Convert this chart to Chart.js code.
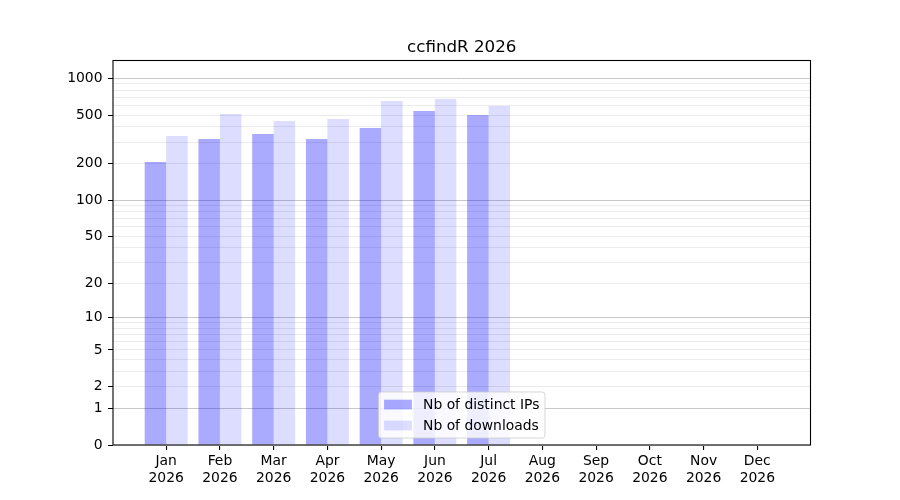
<!DOCTYPE html>
<html>
<head>
<meta charset="utf-8">
<script src="https://cdn.jsdelivr.net/npm/chart.js@4.4.1/dist/chart.umd.min.js"></script>
<style>
html,body{margin:0;padding:0;background:#ffffff;}
#wrap{width:900px;height:500px;position:relative;}
</style>
</head>
<body>
<div id="wrap"><canvas id="c" width="900" height="500"></canvas></div>
<script>
// ---- data ----
const chartTitle = 'ccfindR 2026';
const months = ['Jan','Feb','Mar','Apr','May','Jun','Jul','Aug','Sep','Oct','Nov','Dec'];
const year = '2026';
const distinctIPs = [206, 318, 350, 318, 392, 540, 501, 0, 0, 0, 0, 0];
const downloads   = [337, 510, 447, 464, 652, 677, 593, 0, 0, 0, 0, 0];
const seriesLabels = ['Nb of distinct IPs', 'Nb of downloads'];
const yTickValues  = [0, 1, 2, 5, 10, 20, 50, 100, 200, 500, 1000];
const yMinorValues = [3, 4, 6, 7, 8, 9, 30, 40, 60, 70, 80, 90, 300, 400, 600, 700, 800, 900];
const yMajorGrid   = [1, 10, 100, 1000];

// ---- helpers ----
const tf = v => Math.log10(1 + v);          // log(1+x) axis transform
const labeledY = new Set(yTickValues);
const majorY = new Set(yMajorGrid);
const allY = [...yTickValues, ...yMinorValues].sort((a, b) => a - b);
const FONT = '"DejaVu Sans", "Liberation Sans", sans-serif';
const FS = 13.9;

const framePlugin = {
  id: 'frameTitleLegend',
  afterDatasetsDraw(chart) {
    const ctx = chart.ctx, a = chart.chartArea;
    ctx.save();
    // axes frame
    ctx.strokeStyle = '#000';
    ctx.lineWidth = 1.1;
    ctx.strokeRect(a.left, a.top, a.right - a.left, a.bottom - a.top);
    // title
    ctx.fillStyle = '#000';
    ctx.font = `16.7px ${FONT}`;
    ctx.textAlign = 'center';
    ctx.textBaseline = 'alphabetic';
    ctx.fillText(chartTitle, (a.left + a.right) / 2, a.top - 8.5);
    // legend (lower center, inside axes)
    ctx.font = `${FS}px ${FONT}`;
    const items = chart.data.datasets;
    const tw = Math.max(...items.map(d => ctx.measureText(d.label).width));
    const pad = 0.4 * FS, hl = 2 * FS, htp = 0.8 * FS, ls = 0.5 * FS, rowH = 14;
    const w = pad * 2 + hl + htp + tw;
    const h = pad * 2 + items.length * rowH + (items.length - 1) * ls;
    const x0 = (a.left + a.right) / 2 - w / 2;
    const y0 = a.bottom - 0.5 * FS - h;
    ctx.beginPath();
    if (ctx.roundRect) ctx.roundRect(x0, y0, w, h, 0.2 * FS); else ctx.rect(x0, y0, w, h);
    ctx.fillStyle = 'rgba(255,255,255,0.8)';
    ctx.fill();
    ctx.strokeStyle = 'rgba(204,204,204,0.8)';
    ctx.lineWidth = 1;
    ctx.stroke();
    items.forEach((d, i) => {
      const cy = y0 + pad + i * (rowH + ls) + rowH / 2;
      ctx.fillStyle = d.backgroundColor;
      ctx.fillRect(x0 + pad, cy - 0.35 * FS, hl, 0.7 * FS);
      ctx.fillStyle = '#000';
      ctx.textAlign = 'left';
      ctx.textBaseline = 'middle';
      ctx.fillText(d.label, x0 + pad + hl + htp, cy + 0.5);
    });
    ctx.restore();
  }
};

new Chart(document.getElementById('c'), {
  type: 'bar',
  data: {
    datasets: [
      {
        label: seriesLabels[0],
        data: distinctIPs.map((v, i) => ({ x: i, y: tf(v) })),
        backgroundColor: 'rgba(0,0,255,0.333)',
        borderWidth: 0,
        categoryPercentage: 0.8,
        barPercentage: 1.0
      },
      {
        label: seriesLabels[1],
        data: downloads.map((v, i) => ({ x: i, y: tf(v) })),
        backgroundColor: 'rgba(0,0,255,0.133)',
        borderWidth: 0,
        categoryPercentage: 0.8,
        barPercentage: 1.0
      }
    ]
  },
  options: {
    responsive: false,
    animation: false,
    devicePixelRatio: 1,
    events: [],
    layout: { padding: { top: 60.5, right: 89.5, left: 0, bottom: 0 } },
    plugins: { legend: { display: false }, title: { display: false }, tooltip: { enabled: false } },
    scales: {
      x: {
        type: 'linear',
        min: -0.99,
        max: 11.99,
        offset: false,
        grid: { display: true, offset: false, drawOnChartArea: false, drawTicks: true, tickLength: 5, tickColor: '#000', lineWidth: 1.1 },
        border: { display: false },
        afterBuildTicks: s => { s.ticks = months.map((m, i) => ({ value: i })); },
        afterFit: s => { s.height = 55; },
        ticks: {
          autoSkip: false,
          maxRotation: 0,
          padding: 3.5,
          color: '#000',
          font: { family: FONT, size: FS, lineHeight: 1.18 },
          callback: v => [months[v], year]
        }
      },
      y: {
        type: 'linear',
        min: 0,
        max: 3.146,
        grid: {
          display: true,
          drawTicks: true,
          tickLength: 5,
          lineWidth: 1,
          color: c => (c.tick && majorY.has(c.tick.raw)) ? '#c8c8c8' : '#ebebeb',
          tickColor: c => (c.tick && labeledY.has(c.tick.raw)) ? '#000' : 'rgba(0,0,0,0)'
        },
        border: { display: false },
        afterBuildTicks: s => { s.ticks = allY.map(v => ({ value: tf(v), raw: v })); },
        afterFit: s => { s.width = 113; },
        ticks: {
          autoSkip: false,
          padding: 5.5,
          color: '#000',
          font: { family: FONT, size: FS },
          callback: (v, i, ticks) => {
            const r = ticks[i].raw;
            return labeledY.has(r) ? String(r) : '';
          }
        }
      }
    }
  },
  plugins: [framePlugin]
});
</script>
</body>
</html>
